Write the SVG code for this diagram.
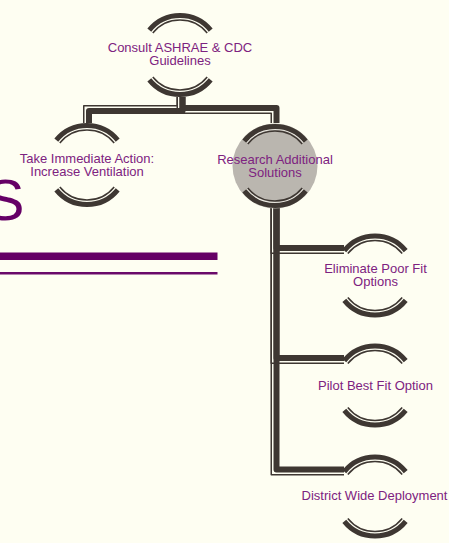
<svg xmlns="http://www.w3.org/2000/svg" xmlns:xlink="http://www.w3.org/1999/xlink" width="449" height="543" viewBox="0 0 449 543">
  <style>
    .bg { fill: #fefef2; }
    .c-thick { fill: none; stroke: #3e3732; stroke-width: 6; stroke-linejoin: round; }
    .c-thin { fill: none; stroke: #3e3732; stroke-width: 1.5; stroke-linejoin: round; }
    .arc-thick { fill: none; stroke: #3e3732; stroke-width: 5; }
    .arc-thin { fill: none; stroke: #3e3732; stroke-width: 1.5; }
    .arc-gap { fill: none; stroke: #f4f2ea; stroke-width: 1.4; }
    .label { font-family: "Liberation Sans", Arial, sans-serif; font-size: 13px; fill: #7d2280; text-anchor: middle; }
    .title { font-family: "Liberation Sans", Arial, sans-serif; font-size: 58px; fill: #660066; text-anchor: end; }
  </style>
  <defs>
    <!-- bracket pair drawn round each node centre -->
    <g id="ring">
      <path class="arc-thick" d="M -30.7,-24.86 A 39.5 39.5 0 0 1 30.7,-24.86"/>
      <path class="arc-thin" d="M -27.2,-22.03 A 35 35 0 0 1 27.2,-22.03"/>
      <path class="arc-thick" d="M -30.7,24.86 A 39.5 39.5 0 0 0 30.7,24.86"/>
      <path class="arc-thin" d="M -27.2,22.03 A 35 35 0 0 0 27.2,22.03"/>
    </g>
    <g id="ring-gap">
      <path class="arc-gap" d="M -28.6,-23.2 A 36.8 36.8 0 0 1 28.6,-23.2"/>
      <path class="arc-gap" d="M -28.6,23.2 A 36.8 36.8 0 0 0 28.6,23.2"/>
    </g>
  </defs>

  <rect class="bg" x="0" y="0" width="449" height="543"/>

  <!-- title fragment and rules -->
  <g id="title">
    <text class="title" x="24.5" y="219.5">S</text>
    <rect x="0" y="252.5" width="217.5" height="7.5" fill="#650065"/>
    <rect x="0" y="272" width="217.5" height="2.5" fill="#6a0a6a"/>
  </g>

  <!-- thick-thin elbow connectors -->
  <g id="connectors">
    <!-- guidelines -> immediate action -->
    <path class="c-thick" d="M182.5,97 V111 H89 V123"/>
    <path class="c-thin" d="M177.25,97 V105.75 H83.75 V123"/>
    <!-- guidelines -> research -->
    <path class="c-thick" d="M182.5,97 V108 H276.5 V123"/>
    <path class="c-thin" d="M177.25,97 V113.25 H271.25 V123"/>
    <!-- research -> district wide deployment -->
    <path class="c-thick" d="M276.5,205 V469.5 H344"/>
    <path class="c-thin" d="M271.25,205 V474.75 H344"/>
    <!-- research -> pilot -->
    <path class="c-thick" d="M276.5,205 V358 H344"/>
    <path class="c-thin" d="M271.25,205 V363.25 H344"/>
    <!-- research -> eliminate -->
    <path class="c-thick" d="M276.5,205 V248 H344"/>
    <path class="c-thin" d="M271.25,205 V253.25 H344"/>
  </g>

  <g id="node-guidelines">
    <use xlink:href="#ring" x="180" y="55"/>
    <text class="label" x="180" y="52">Consult ASHRAE &amp; CDC</text>
    <text class="label" x="180" y="65">Guidelines</text>
  </g>

  <g id="node-immediate">
    <use xlink:href="#ring" x="87" y="165"/>
    <text class="label" x="87" y="163">Take Immediate Action:</text>
    <text class="label" x="87" y="176">Increase Ventilation</text>
  </g>

  <g id="node-research">
    <circle cx="275" cy="166" r="42.5" fill="#bab6af"/>
    <use xlink:href="#ring-gap" x="275" y="166"/>
    <use xlink:href="#ring" x="275" y="166"/>
    <text class="label" x="275" y="163.5">Research Additional</text>
    <text class="label" x="275" y="176.5">Solutions</text>
  </g>

  <g id="node-eliminate">
    <use xlink:href="#ring" x="375" y="275.5"/>
    <text class="label" x="375.5" y="273">Eliminate Poor Fit</text>
    <text class="label" x="375.5" y="286">Options</text>
  </g>

  <g id="node-pilot">
    <use xlink:href="#ring" x="375" y="385.5"/>
    <text class="label" x="375.5" y="389.5">Pilot Best Fit Option</text>
  </g>

  <g id="node-district">
    <use xlink:href="#ring" x="375" y="496.5"/>
    <text class="label" x="374.5" y="499.5">District Wide Deployment</text>
  </g>
</svg>
